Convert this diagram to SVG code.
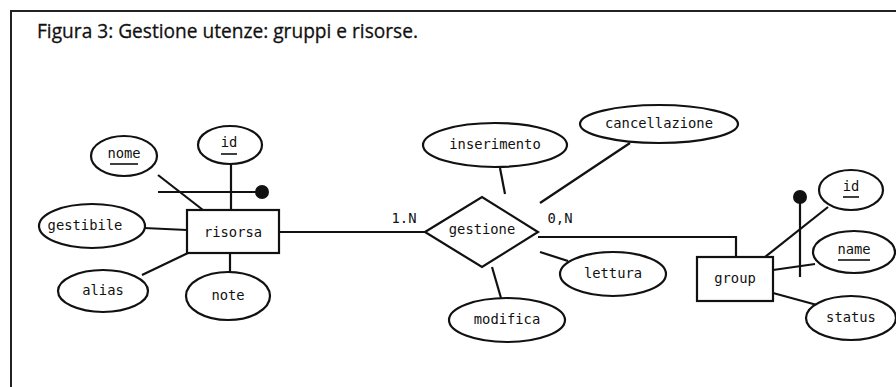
<svg xmlns="http://www.w3.org/2000/svg" width="896" height="387" viewBox="0 0 896 387">
<style>
.t{font-family:"DejaVu Sans Mono","Liberation Mono",monospace;font-size:13.8px;fill:#111;text-anchor:middle}
.s{fill:#fff;stroke:#111;stroke-width:2.2}
.c{stroke:#111;stroke-width:2.2;fill:none}
.u{stroke:#111;stroke-width:1.6}
</style>
<rect width="896" height="387" fill="#fff"/>
<path d="M11 387 V11 H896" fill="none" stroke="#222" stroke-width="2"/>
<text x="37" y="38" font-family="'Open Sans','Liberation Sans',sans-serif" font-size="20" font-weight="500" fill="#111" stroke="#111" stroke-width="0.3" textLength="381" lengthAdjust="spacingAndGlyphs">Figura 3: Gestione utenze: gruppi e risorse.</text>
<g id="connectors">
<line class="c" x1="158" y1="175" x2="203" y2="210"/>
<line class="c" x1="231" y1="164" x2="231" y2="210"/>
<line class="c" x1="158" y1="192" x2="262" y2="192"/>
<circle cx="262" cy="192" r="7" fill="#111"/>
<line class="c" x1="144" y1="228" x2="187" y2="230"/>
<line class="c" x1="142" y1="275" x2="188" y2="253"/>
<line class="c" x1="230" y1="253" x2="230" y2="273"/>
<line class="c" x1="279" y1="232" x2="425" y2="232"/>
<polyline class="c" points="538,237 736,237 736,257"/>
<line class="c" x1="500" y1="168" x2="505" y2="194"/>
<line class="c" x1="630" y1="143" x2="540" y2="203"/>
<line class="c" x1="540" y1="252" x2="568" y2="261"/>
<line class="c" x1="492" y1="267" x2="501" y2="298"/>
<line class="c" x1="765" y1="257" x2="828" y2="207"/>
<line class="c" x1="800" y1="197" x2="800" y2="277"/>
<circle cx="800" cy="197" r="7" fill="#111"/>
<line class="c" x1="773" y1="270" x2="815" y2="264"/>
<line class="c" x1="773" y1="293" x2="817" y2="305"/>
<text class="t" x="404" y="223">1.N</text>
<text class="t" x="560" y="223">0,N</text>
</g>
<g id="risorsa"><rect class="s" x="187" y="210" width="92" height="43"/><text class="t" x="233" y="237">risorsa</text></g>
<g id="nome"><ellipse class="s" cx="124" cy="156" rx="33" ry="20"/><text class="t" x="124" y="158">nome</text><line class="u" x1="110" y1="164" x2="138" y2="164"/></g>
<g id="id-risorsa"><ellipse class="s" cx="230" cy="145" rx="32" ry="19"/><text class="t" x="229" y="147">id</text><line class="u" x1="221" y1="154" x2="237" y2="154"/></g>
<g id="gestibile"><ellipse class="s" cx="92" cy="226" rx="53" ry="22"/><text class="t" x="85" y="230">gestibile</text></g>
<g id="alias"><ellipse class="s" cx="103" cy="291" rx="45" ry="21"/><text class="t" x="103" y="295">alias</text></g>
<g id="note"><ellipse class="s" cx="228" cy="296" rx="42" ry="24"/><text class="t" x="228" y="300">note</text></g>
<g id="gestione"><polygon class="s" points="425,232 482,197 538,232 482,267"/><text class="t" x="482" y="234">gestione</text></g>
<g id="inserimento"><ellipse class="s" cx="495" cy="145" rx="72" ry="22"/><text class="t" x="495" y="149">inserimento</text></g>
<g id="cancellazione"><ellipse class="s" cx="659" cy="124" rx="79" ry="19"/><text class="t" x="659" y="128">cancellazione</text></g>
<g id="lettura"><ellipse class="s" cx="613" cy="274" rx="53" ry="22"/><text class="t" x="613" y="278">lettura</text></g>
<g id="modifica"><ellipse class="s" cx="507" cy="320" rx="58" ry="22"/><text class="t" x="507" y="324">modifica</text></g>
<g id="group"><rect class="s" x="697" y="257" width="76" height="44"/><text class="t" x="735" y="283">group</text></g>
<g id="id-group"><ellipse class="s" cx="851" cy="190" rx="32" ry="20"/><text class="t" x="851" y="191">id</text><line class="u" x1="843" y1="197" x2="859" y2="197"/></g>
<g id="name"><ellipse class="s" cx="854" cy="252" rx="41" ry="21"/><text class="t" x="854" y="254">name</text><line class="u" x1="838" y1="260" x2="870" y2="260"/></g>
<g id="status"><ellipse class="s" cx="851" cy="318" rx="45" ry="22"/><text class="t" x="851" y="322">status</text></g>
</svg>
